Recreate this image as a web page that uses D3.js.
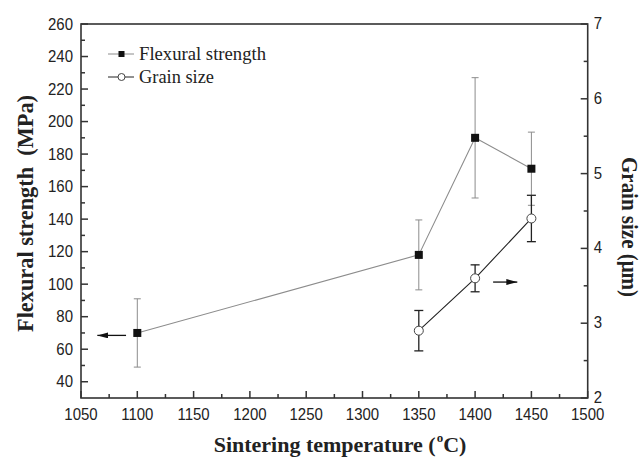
<!DOCTYPE html>
<html>
<head>
<meta charset="utf-8">
<script src="https://cdn.jsdelivr.net/npm/d3@7"></script>
<style>
  body { margin: 0; background: #fff; }
  svg { display: block; }
  .tick-label { font-family: "Liberation Sans", Arial, sans-serif; font-size: 15px; fill: #222; }
  .title { font-family: "Liberation Serif", "Times New Roman", serif; font-weight: bold; fill: #222; white-space: pre; }
  .legend { font-family: "Liberation Serif", "Times New Roman", serif; font-size: 19px; fill: #222; }
</style>
</head>
<body>
<svg id="chart" width="643" height="457"></svg>
<script>
// sintering temperatures (°C)
const temps = [1100, 1350, 1400, 1450];
// flexural strength (MPa) and its error
const strength = [70, 118, 190, 171];
const strengthErr = [21, 21.5, 37, 22.5];
// grain size (µm), measured only from 1350 °C
const grainTemps = [1350, 1400, 1450];
const grain = [2.9, 3.6, 4.4];
const grainErr = [0.27, 0.18, 0.31];

const xTicks = [1050, 1100, 1150, 1200, 1250, 1300, 1350, 1400, 1450, 1500];
const yLeftTicks = [40, 60, 80, 100, 120, 140, 160, 180, 200, 220, 240, 260];
const yRightTicks = [2, 3, 4, 5, 6, 7];

const svg = d3.select("#chart");
const m = { left: 81, right: 55.3, top: 24, bottom: 59 };
const W = 643, H = 457;
const x = d3.scaleLinear().domain([1050, 1500]).range([m.left, W - m.right]);
const yL = d3.scaleLinear().domain([30, 260]).range([H - m.bottom, m.top]);
const yR = d3.scaleLinear().domain([2, 7]).range([H - m.bottom, m.top]);

const axisColor = "#333";
const x0 = x.range()[0], x1 = x.range()[1];
const yb = yL.range()[0], yt = yL.range()[1];

// ticks (inward), major + minor
const g = svg.append("g");
const minorX = d3.range(1075, 1500, 50);
xTicks.forEach(v => g.append("line").attr("x1", x(v)).attr("x2", x(v)).attr("y1", yb).attr("y2", yb - 7).attr("stroke", axisColor).attr("stroke-width", 1.5));
minorX.forEach(v => g.append("line").attr("x1", x(v)).attr("x2", x(v)).attr("y1", yb).attr("y2", yb - 4).attr("stroke", axisColor).attr("stroke-width", 1.5));
yLeftTicks.forEach(v => g.append("line").attr("x1", x0).attr("x2", x0 + 7).attr("y1", yL(v)).attr("y2", yL(v)).attr("stroke", axisColor).attr("stroke-width", 1.5));
d3.range(50, 260, 20).forEach(v => g.append("line").attr("x1", x0).attr("x2", x0 + 4).attr("y1", yL(v)).attr("y2", yL(v)).attr("stroke", axisColor).attr("stroke-width", 1.5));
yRightTicks.forEach(v => g.append("line").attr("x1", x1).attr("x2", x1 - 7).attr("y1", yR(v)).attr("y2", yR(v)).attr("stroke", axisColor).attr("stroke-width", 1.5));
d3.range(2.5, 7, 1).forEach(v => g.append("line").attr("x1", x1).attr("x2", x1 - 4).attr("y1", yR(v)).attr("y2", yR(v)).attr("stroke", axisColor).attr("stroke-width", 1.5));

// frame
svg.append("rect").attr("x", x0).attr("y", yt).attr("width", x1 - x0).attr("height", yb - yt)
  .attr("fill", "none").attr("stroke", axisColor).attr("stroke-width", 1.6);

// tick labels (digits a bit taller than wide in the original)
const sy = 1.12;
svg.selectAll(".xl").data(xTicks).join("text").attr("class", "tick-label")
  .attr("transform", d => `translate(${x(d)},${yb + 21.5}) scale(1,${sy})`).attr("text-anchor", "middle").text(d => d);
svg.selectAll(".yl").data(yLeftTicks).join("text").attr("class", "tick-label")
  .attr("transform", d => `translate(${x0 - 8},${yL(d) + 5.5}) scale(1,${sy})`).attr("text-anchor", "end").text(d => d);
svg.selectAll(".yr").data(yRightTicks).join("text").attr("class", "tick-label")
  .attr("transform", d => `translate(${x1 + 6},${yR(d) + 5}) scale(1,${sy})`).attr("text-anchor", "start").text(d => d);

// axis titles
const xt = svg.append("text").attr("class", "title").style("font-size", "22px")
  .attr("x", 340).attr("y", 452).attr("text-anchor", "middle");
xt.append("tspan").text("Sintering temperature (");
xt.append("tspan").style("font-size", "13px").attr("dx", 1).attr("dy", -10).text("o");
xt.append("tspan").attr("dy", 10).text("C)");
svg.append("text").attr("class", "title").style("font-size", "20px")
  .attr("transform", "translate(32.5,213.5) rotate(-90) scale(1,1.2)")
  .attr("text-anchor", "middle").attr("textLength", 237).attr("lengthAdjust", "spacingAndGlyphs")
  .text("Flexural strength  (MPa)");
svg.append("text").attr("class", "title").style("font-size", "20px")
  .attr("transform", "translate(622,227) rotate(90) scale(1,1.15)")
  .attr("text-anchor", "middle").attr("textLength", 140).attr("lengthAdjust", "spacingAndGlyphs")
  .text("Grain size (\u03bcm)");

// flexural strength series
const sData = temps.map((t, i) => ({ t, v: strength[i], e: strengthErr[i] }));
const gData = grainTemps.map((t, i) => ({ t, v: grain[i], e: grainErr[i] }));
const gray = "#8c8c8c", dark = "#222";

svg.append("path").datum(sData)
  .attr("d", d3.line().x(d => x(d.t)).y(d => yL(d.v)))
  .attr("fill", "none").attr("stroke", gray).attr("stroke-width", 1.1);
const se = svg.append("g").attr("stroke", gray).attr("stroke-width", 1);
sData.forEach(d => {
  se.append("line").attr("x1", x(d.t)).attr("x2", x(d.t)).attr("y1", yL(d.v - d.e)).attr("y2", yL(d.v + d.e));
  [d.v - d.e, d.v + d.e].forEach(c => se.append("line").attr("x1", x(d.t) - 3.5).attr("x2", x(d.t) + 3.5).attr("y1", yL(c)).attr("y2", yL(c)));
});

// grain size series
svg.append("path").datum(gData)
  .attr("d", d3.line().x(d => x(d.t)).y(d => yR(d.v)))
  .attr("fill", "none").attr("stroke", dark).attr("stroke-width", 1.1);
const ge = svg.append("g").attr("stroke", dark).attr("stroke-width", 1.3);
gData.forEach(d => {
  ge.append("line").attr("x1", x(d.t)).attr("x2", x(d.t)).attr("y1", yR(d.v - d.e)).attr("y2", yR(d.v + d.e));
  [d.v - d.e, d.v + d.e].forEach(c => ge.append("line").attr("x1", x(d.t) - 4.5).attr("x2", x(d.t) + 4.5).attr("y1", yR(c)).attr("y2", yR(c)));
});

svg.selectAll(".sq").data(sData).join("rect")
  .attr("x", d => x(d.t) - 4).attr("y", d => yL(d.v) - 4).attr("width", 8).attr("height", 8).attr("fill", "#111");
svg.selectAll(".ci").data(gData).join("circle")
  .attr("cx", d => x(d.t)).attr("cy", d => yR(d.v)).attr("r", 4.5)
  .attr("fill", "#fff").attr("stroke", "#444").attr("stroke-width", 1);

// arrows pointing to the matching axis (in data units)
const defs = svg.append("defs");
defs.append("marker").attr("id", "ah").attr("viewBox", "0 0 11 6").attr("refX", 11).attr("refY", 3)
  .attr("markerWidth", 11).attr("markerHeight", 6).attr("markerUnits", "userSpaceOnUse").attr("orient", "auto")
  .append("path").attr("d", "M0,0 L11,3 L0,6 Z").attr("fill", "#111");
svg.append("line").attr("x1", x(1090)).attr("x2", x(1064.5)).attr("y1", yL(68.5)).attr("y2", yL(68.5))
  .attr("stroke", "#111").attr("stroke-width", 1.3).attr("marker-end", "url(#ah)");
svg.append("line").attr("x1", x(1416)).attr("x2", x(1437.5)).attr("y1", yR(3.55)).attr("y2", yR(3.55))
  .attr("stroke", "#111").attr("stroke-width", 1.3).attr("marker-end", "url(#ah)");

// legend
const leg = svg.append("g");
const legRows = [
  { label: "Flexural strength", y: 54, type: "sq", len: 127 },
  { label: "Grain size", y: 77, type: "ci", len: 75 }
];
legRows.forEach(r => {
  leg.append("line").attr("x1", 108).attr("x2", 134).attr("y1", r.y).attr("y2", r.y)
    .attr("stroke", r.type === "sq" ? gray : dark).attr("stroke-width", 1);
  if (r.type === "sq") leg.append("rect").attr("x", 118.5).attr("y", r.y - 3).attr("width", 6).attr("height", 6).attr("fill", "#111");
  else leg.append("circle").attr("cx", 121.5).attr("cy", r.y).attr("r", 3.5).attr("fill", "#fff").attr("stroke", "#444");
  leg.append("text").attr("class", "legend").attr("x", 139).attr("y", r.y + 6)
    .attr("textLength", r.len).attr("lengthAdjust", "spacingAndGlyphs").text(r.label);
});
</script>
</body>
</html>
